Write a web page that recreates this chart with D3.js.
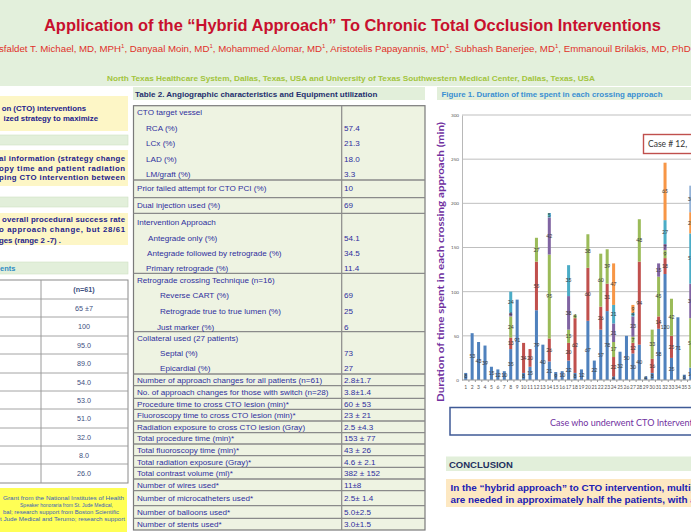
<!DOCTYPE html>
<html><head><meta charset="utf-8">
<script src="https://cdn.jsdelivr.net/npm/d3@7"></script>
<style>body{margin:0;background:#fff;overflow:hidden} svg{display:block}</style>
</head><body>
<svg id="c" width="691" height="532"></svg>
<script>
// ---------- DATA ----------
const cases = d3.range(1, 37).map(String);
const seriesKeys = ["s1","s2","s3","s4","s5","s6","s7"];
const seriesColors = ["#4f81bd","#c0504d","#9bbb59","#8064a2","#4bacc6","#f79646","#95b3d7"];
const s1 = [8,53,43,39,15,12,10,35,91,8,15,79,40,21,9,10,22,8,12,67,22,57,78,4,32,50,30,40,4,8,58,120,25,71,6,14];
const s2 = [0,0,0,0,0,0,0,13,0,34,20,55,0,26,0,0,20,62,0,60,0,26,31,22,0,0,12,94,0,16,14,18,25,0,0,0];
const s3 = [0,0,0,0,0,0,0,24,0,0,0,27,0,95,0,0,15,4,0,38,0,60,39,17,0,0,7,48,0,33,45,9,42,0,0,56];
const s4 = [0,0,0,0,0,0,0,4,0,0,0,0,0,42,0,0,38,0,0,0,0,0,0,21,0,0,23,0,0,0,15,7,0,0,0,39];
const s5 = [0,0,0,0,0,0,0,24,0,0,0,0,0,5,0,0,35,0,0,0,0,0,0,21,0,0,4,0,0,0,0,27,0,0,0,57];
const s6 = [0,0,0,0,0,0,0,0,0,0,0,0,0,0,0,0,0,0,0,0,0,0,0,47,0,0,9,0,0,0,0,65,0,0,0,24];
const s7 = [0,0,0,0,0,0,0,0,0,0,0,0,0,0,0,0,0,0,0,0,0,0,0,0,0,0,0,0,0,0,0,0,0,0,0,30];
const yTicks = [0,50,100,150,200,250,300];

const authors = [["sfaldet T. Michael, MD, MPH","1"],[", Danyaal Moin, MD","1"],[",  Mohammed Alomar, MD","1"],
  [", Aristotelis Papayannis, MD","1"],[", Subhash Banerjee, MD","1"],[", Emmanouil Brilakis, MD, PhD","1"]];

const table1Values = ["(n=61)","65 ±7","100","95.0","89.0","54.0","53.0","51.0","32.0","8.0","26.0"];

const table2Labels = ["CTO target vessel","RCA (%)","LCx (%)","LAD (%)","LM/graft (%)",
 "Prior failed attempt for CTO PCI (%)","Dual injection used (%)","Intervention Approach",
 "Antegrade only (%)","Antegrade followed by retrograde (%)","Primary retrograde (%)",
 "Retrograde crossing Technique (n=16)","Reverse CART (%)","Retrograde true to true lumen (%)","Just marker (%)",
 "Collateral used (27 patients)","Septal (%)","Epicardial (%)",
 "Number of approach changes for all patients (n=61)","No. of approach changes for those with switch (n=28)",
 "Procedure time to cross CTO lesion (min)*","Fluoroscopy time to cross CTO lesion (min)*",
 "Radiation exposure to cross CTO lesion (Gray)","Total procedure time (min)*","Total fluoroscopy time (min)*",
 "Total radiation exposure (Gray)*","Total contrast volume (ml)*","Number of wires used*",
 "Number of microcatheters used*","Number of balloons used*","Number of stents used*"];
const table2Values = ["","57.4","21.3","18.0","3.3","10","69","","54.1","34.5","11.4","","69","25","6","","73","27",
 "2.8±1.7","3.8±1.4","60 ± 53","23 ± 21","2.5 ±4.3","153 ± 77","43 ± 26","4.6 ± 2.1","382 ± 152","11±8","2.5± 1.4","5.0±2.5","3.0±1.5"];

// ---------- LAYOUT ----------
const svg = d3.select("#c");
const SANS = "'Liberation Sans', Arial, sans-serif";
const CAL = "Lato, 'Open Sans', sans-serif";

// header
svg.append("rect").attr("x",0).attr("y",0).attr("width",691).attr("height",86).attr("fill","#e3f0dc");
svg.append("text").attr("x",352.5).attr("y",31).attr("text-anchor","middle")
  .attr("font-family",SANS).attr("font-weight","bold").attr("font-size",16).attr("fill","#c8102e")
  .attr("textLength",617).attr("lengthAdjust","spacingAndGlyphs")
  .text("Application of the “Hybrid Approach” To Chronic Total Occlusion Interventions");
const auth = svg.append("text").attr("x",-1).attr("y",52).attr("font-family",SANS).attr("font-size",9.7).attr("fill","#e0302a");
authors.forEach(a=>{
  auth.append("tspan").attr("y",52).text(a[0]);
  auth.append("tspan").attr("y",48).attr("font-size",6).text(a[1]);
});
svg.append("text").attr("x",351).attr("y",81).attr("text-anchor","middle")
  .attr("font-family",SANS).attr("font-weight","bold").attr("font-size",7.3).attr("fill","#a2c43c")
  .attr("textLength",488).attr("lengthAdjust","spacingAndGlyphs")
  .text("North Texas Healthcare System, Dallas, Texas, USA and University of Texas Southwestern Medical Center, Dallas, Texas, USA");

// ---------- LEFT COLUMN ----------
const yel = "#fdf6c6", band = "#e2efda", navy = "#1c1c8c";
function rect(x,y,w,h,fill,stroke,sw){return svg.append("rect").attr("x",x).attr("y",y).attr("width",w).attr("height",h).attr("fill",fill).attr("stroke",stroke||"none").attr("stroke-width",sw||1);}
function txt(x,y,s,o){const t=svg.append("text").attr("x",x).attr("y",y).attr("font-family",o.ff||SANS).attr("font-size",o.fs||8).attr("fill",o.fill||"#000").text(s);
  if(o.fw)t.attr("font-weight",o.fw); if(o.anchor)t.attr("text-anchor",o.anchor); if(o.len)t.attr("textLength",o.len).attr("lengthAdjust",o.adj||"spacing"); return t;}

rect(-1,96,129,35,yel);
txt(86,111,"on (CTO) interventions",{fw:"bold",fill:navy,anchor:"end",fs:7.8});
txt(98,121,"ized strategy to maximize",{fw:"bold",fill:navy,anchor:"end",fs:7.8});
rect(-1,135,129,10,band,"#cfe0c4",0.6);
rect(-1,150,129,36,yel);
txt(-1,161,"al information (strategy change",{fw:"bold",fill:navy,fs:7.8,len:126});
txt(-1,170.5,"opy time and patient radiation",{fw:"bold",fill:navy,fs:7.8,len:126});
txt(-1,180,"ping CTO intervention between",{fw:"bold",fill:navy,fs:7.8,len:126});
rect(-1,197,129,10,band,"#cfe0c4",0.6);
rect(-1,213,129,32,yel);
txt(2,222,"overall procedural success rate",{fw:"bold",fill:navy,fs:7.8,len:123});
txt(-1,232,"o approach change, but 28/61",{fw:"bold",fill:navy,fs:7.8,len:126});
txt(-1,242.5,"ges (range 2 -7) .",{fw:"bold",fill:navy,fs:7.8});
rect(-1,262,129,12,band,"#cfe0c4",0.6);
txt(0,271,"ents",{fw:"bold",fill:"#2f8cc4",fs:7.5});

// table 1
const t1Lines = [280,299,317,336,354,373,391,409,428,446,464,483];
rect(-1,280,129,203,"#ffffff","#8a8a8a",1);
svg.selectAll("line.t1").data(t1Lines.slice(1,-1)).join("line").attr("x1",0).attr("x2",128).attr("y1",d=>d).attr("y2",d=>d).attr("stroke","#9a9a9a").attr("stroke-width",0.9);
svg.append("line").attr("x1",41).attr("x2",41).attr("y1",280).attr("y2",483).attr("stroke","#9a9a9a");
svg.selectAll("text.t1").data(table1Values).join("text").attr("x",84).attr("y",(d,i)=>(t1Lines[i]+t1Lines[i+1])/2+2.6)
  .attr("text-anchor","middle").attr("font-family",SANS).attr("font-size",7.2).attr("fill","#3d4f80")
  .attr("font-weight",(d,i)=>i===0?"bold":"normal").text(d=>d);

rect(-1,488,128,45,"#ffff55");
const fundLines = [["Grant from the National Institutes of Health",3,500,121],["Speaker honoraria from St. Jude Medical,",20,507,93],
  ["bal; research support from Boston Scientific",3,514,116],["t Jude Medical and Terumo; research support",0,521,125]];
fundLines.forEach(l=>txt(l[1],l[2],l[0],{fs:5.4,fill:"#3a62b8",len:l[3],adj:"spacingAndGlyphs"}));

// ---------- MIDDLE COLUMN ----------
rect(133,87,292,13,band);
txt(135,96.5,"Table 2. Angiographic  characteristics and Equipment utilization",{fw:"bold",fs:8.05,fill:"#1f2f6e"});
rect(133.5,105.7,291.5,424.3,"#eef3e2","#7a7a7a",1.2);
const groupLines = [180,197.7,213.3,273.3,331.7,374,385.7,398.3,409.3,421,432.7,444,455.7,467.3,479,490.7,505.7,518.3];
svg.selectAll("line.g").data(groupLines).join("line").attr("x1",133.5).attr("x2",425).attr("y1",d=>d).attr("y2",d=>d).attr("stroke","#8a8a8a").attr("stroke-width",1.3);
svg.append("line").attr("x1",341.7).attr("x2",341.7).attr("y1",105.7).attr("y2",530).attr("stroke","#8a8a8a").attr("stroke-width",1.2);
const t2x = [137,146,146,146,146,137,137,137,148,147,146,137,160,160,157,137,160,160,137,137,137,137,137,137,137,137,137,137,137,137,137];
const t2y = [111.7,127.7,143,158.7,174,188.5,205,221.7,238.3,253.3,267.7,280,295,310.7,326.7,338.3,353.3,368.3,
  380,392,404,415.3,427,438.5,450,461.7,473.3,485,498,512.3,524.2];
svg.selectAll("text.lab2").data(table2Labels).join("text").attr("x",(d,i)=>t2x[i]).attr("y",(d,i)=>t2y[i]+2.9)
  .attr("font-family",SANS).attr("font-size",8.1).attr("fill","#2f2f9e").text(d=>d);
svg.selectAll("text.val2").data(table2Values).join("text").attr("x",344).attr("y",(d,i)=>t2y[i]+2.9)
  .attr("font-family",SANS).attr("font-size",8.1).attr("fill","#2f2f9e").text(d=>d);

// ---------- RIGHT COLUMN (CHART) ----------
rect(437,87,255,13,band);
txt(441.5,96.5,"Figure 1.  Duration of time spent in each crossing approach",{fw:"bold",fs:7.9,fill:"#3a8fd2"});

const x = d3.scaleBand().domain(cases).range([462.5, 462.5 + 36*6.43]).paddingInner(0.53).paddingOuter(0.265);
const y = d3.scaleLinear().domain([0,300]).range([380,115]);

// gridlines
svg.append("g").selectAll("line").data(yTicks.slice(1)).join("line")
  .attr("x1",462).attr("x2",691).attr("y1",d=>y(d)).attr("y2",d=>y(d)).attr("stroke","#b8b8b8").attr("stroke-width",0.9);

const yAxis = svg.append("g").attr("transform","translate(462,0)").call(d3.axisLeft(y).tickValues(yTicks).tickSize(0).tickPadding(3));
yAxis.select(".domain").attr("stroke","#b8b8b8");
yAxis.selectAll("text").attr("font-family",CAL).attr("font-size",4.6).attr("fill","#555");

const rows = cases.map((c,i)=>({case:c,s1:s1[i],s2:s2[i],s3:s3[i],s4:s4[i],s5:s5[i],s6:s6[i],s7:s7[i]}));
const stacked = d3.stack().keys(seriesKeys)(rows);
const gBars = svg.append("g");
stacked.forEach((layer,k)=>{
  gBars.append("g").attr("fill",seriesColors[k]).selectAll("rect").data(layer.filter(d=>d[1]>d[0])).join("rect")
    .attr("x",d=>x(d.data.case)).attr("width",x.bandwidth())
    .attr("y",d=>y(d[1])).attr("height",d=>y(d[0])-y(d[1]));
});
const labelG = svg.append("g").attr("font-family",CAL).attr("font-size",5.2).attr("fill","#3a3a3a").attr("text-anchor","middle");
stacked.forEach((layer,k)=>{
  labelG.selectAll(null).data(layer.filter(d=>d[1]>d[0])).join("text")
    .attr("x",d=>x(d.data.case)+x.bandwidth()/2).attr("y",d=>y((d[0]+d[1])/2)+1.8)
    .text(d=>d[1]-d[0]);
});

const xAxis = svg.append("g").attr("transform","translate(0,380)").call(d3.axisBottom(x).tickSize(2).tickPadding(3.5));
xAxis.select(".domain").attr("stroke","#999").attr("d","M462,0H691");
xAxis.selectAll(".tick line").attr("stroke","#999").attr("transform",`translate(${x.step()/2},0)`);
xAxis.selectAll("text").attr("font-family",CAL).attr("font-size",5).attr("fill","#555");

// axis title
svg.append("text").attr("transform","translate(444,262) rotate(-90)").attr("text-anchor","middle")
  .attr("font-family",CAL).attr("font-weight","bold").attr("font-size",9).attr("fill","#7030a0")
  .attr("textLength",280).attr("lengthAdjust","spacingAndGlyphs")
  .text("Duration of time spent in each crossing approach (min)");

// callout
rect(643.5,134.5,60,19,"#ffffff","#c0504d",1.4);
txt(648,147,"Case # 12,",{ff:CAL,fs:8.5,fill:"#333"});

// x title box
rect(450,407.5,260,27.5,"#ffffff","#3f5a96",1.5);
txt(550,425.5,"Case who underwent CTO Intervention",{ff:CAL,fs:9,fill:"#7030a0"});

// conclusion
rect(446,456.5,246,14.5,band);
txt(449,468,"CONCLUSION",{fw:"bold",fs:9.5,fill:"#1f2f5e"});
rect(446,479,246,28,"#fde8c2");
txt(450.5,491,"In the “hybrid approach” to CTO intervention, multiple",{fw:"bold",fs:9.9,fill:"#2020b4"});
txt(450.5,502.5,"are needed in approximately half the patients, with a",{fw:"bold",fs:9.9,fill:"#2020b4"});
</script>
</body></html>
